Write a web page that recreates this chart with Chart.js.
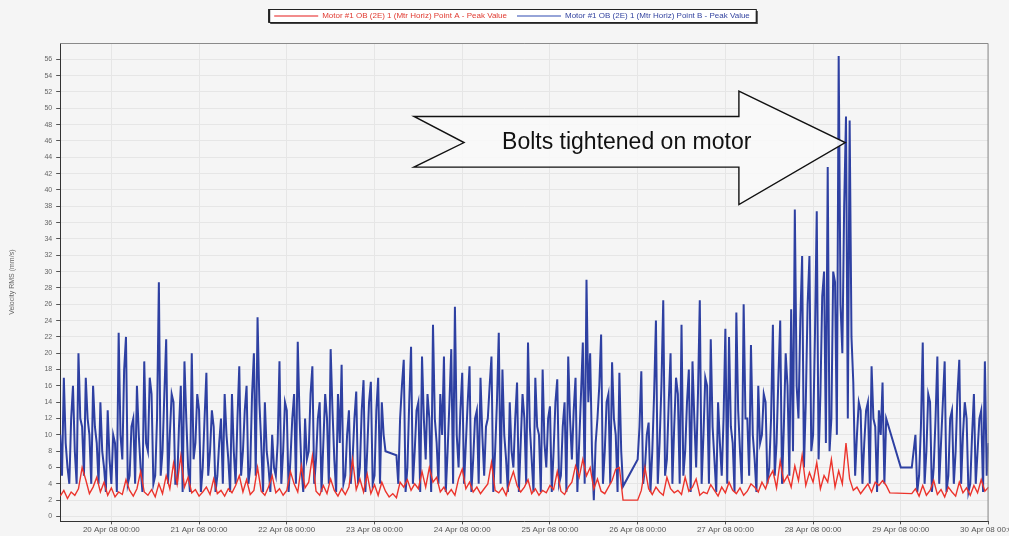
<!DOCTYPE html>
<html>
<head>
<meta charset="utf-8">
<title>Motor vibration trend</title>
<script src="https://cdn.jsdelivr.net/npm/chart.js@4.4.0/dist/chart.umd.min.js"></script>
<style>
  html, body { margin: 0; padding: 0; background: #f5f5f5; overflow: hidden; }
  #wrap { width: 1018px; height: 536px; }
</style>
</head>
<body>
<div id="wrap"><canvas id="trendChart" width="1018" height="536"></canvas></div>
<script>
// Time is in hours from 20 Apr 00:00; both traces start at 19 Apr 10:00
const startHour = -14;
const pointAStep = 1;    // hourly
const pointBStep = 0.5;  // every half hour

const dayHours = [0, 24, 48, 72, 96, 120, 144, 168, 192, 216, 240];
const dayLabels = [
    '20 Apr 08 00:00', '21 Apr 08 00:00', '22 Apr 08 00:00', '23 Apr 08 00:00',
    '24 Apr 08 00:00', '25 Apr 08 00:00', '26 Apr 08 00:00', '27 Apr 08 00:00',
    '28 Apr 08 00:00', '29 Apr 08 00:00', '30 Apr 08 00:00'
];

const seriesNames = [
    'Motor #1 OB (2E) 1 (Mtr Horiz) Point A - Peak Value',
    'Motor #1 OB (2E) 1 (Mtr Horiz) Point B - Peak Value'
];

// Point A (red), hourly
const pointA = [
    2.5, 3.2, 2.2, 3, 2.6, 3.4, 6, 4.5, 2.8, 3.6,
    4.8, 3, 4.2, 2.6, 3.5, 2.4, 3, 2.7, 4.5, 3.2,
    2.5, 3.4, 5.5, 3, 2.6, 3.3, 2.4, 4, 2.8, 5,
    3.4, 6.5, 4, 7.4, 3.6, 4.8, 2.9, 3.3, 2.5, 3,
    3.6, 2.7, 4.6, 2.8, 3.2, 2.5, 3.4, 2.9, 3.8, 5,
    3, 4.5, 2.7, 3.2, 6, 3.1, 2.6, 3.6, 5, 2.9,
    3.4, 2.6, 3.2, 5.5, 4, 3, 6.2, 3.5, 4.2, 7.4,
    3.1, 2.6, 3.8, 2.8, 4.6, 3.2, 2.5, 3.4, 2.7, 3.6,
    7, 3.3, 4.6, 3, 5.2, 2.8, 3.9, 2.6, 4.2, 3.1,
    2.4, 2.8, 2.3, 4.2, 3.6, 4.5, 3.2, 4, 3.4, 5.5,
    3.6, 6, 4.2, 4.8, 3, 3.6, 2.7, 3.3, 2.6, 4.6,
    5.8, 3.4, 4.2, 3, 3.6, 2.8, 3.4, 4, 6.6, 3.2,
    2.9, 3.5, 2.6, 4.2, 5.5, 3.8, 3, 3.6, 4.5, 2.8,
    3.4, 2.6, 3.2, 2.9, 3.8, 3.3, 5.5, 3.1, 2.7, 3.6,
    4.2, 6.2, 4.8, 7, 5, 6, 3.4, 4.6, 3.1, 2.8,
    3.6, 4.4, 5.8, 6, 2, null, null, null, 2, 3.2,
    6, 3.4, 2.7, 3.6, 3, 2.6, 4.8, 3.4, 2.9, 3.2,
    2.7, 4.8, 3.1, 3.6, 4.6, 2.6, 3, 2.8, 3.9, 3.2,
    2.5, 3.6, 2.9, 4.2, 3.2, 2.8, 3.5, 2.6, 3.1, 4,
    3.6, 3, 4.2, 3.4, 4.8, 5.6, 3.5, 6.8, 4.2, 5,
    3.6, 6.2, 4.4, 7.5, 3.8, 5.4, 4.2, 6.6, 3.4, 5,
    4.2, 7, 3.6, 5.6, 4, 9, 4.6, 3.2, 3.6, 2.8,
    3.4, 4, 3, 4.2, 3.8, 4.4, 3.8, 2.9, null, null,
    null, null, null, 2.8, 3.4, 2.5, 3.8, 2.6, 3.2, 4.4,
    2.7, 3.3, 2.4, 3.6, 3, 2.5, 4.2, 2.9, 3.5, 2.6,
    3.8, 2.9, 4.5, 3.1, 3.6
];

// Point B (blue), half-hourly, one row = 10 hours
const pointB = [
    10, 5, 17, 9, 6, 4, 12, 16, 8, 4, 20, 12, 11, 5, 17, 12, 10, 4, 16, 11,
    9, 4, 14, 8, 6, 3, 13, 7, 4, 10, 9, 3, 22.5, 10, 7, 18, 22, 4, 5, 11,
    12, 4, 16, 10, 6, 3, 19, 9, 8, 17, 15, 4, 5, 12, 28.7, 5, 8, 15, 21.7, 4,
    10, 15, 14, 4, 4, 11, 16, 3, 19, 12, 6, 3, 20, 7, 9, 15, 13, 3, 6, 12,
    17.6, 5, 8, 13, 11, 3, 5, 9, 12, 4, 15, 10, 7, 3, 15, 8, 4, 12, 18.4, 5,
    8, 13, 16, 4, 6, 15, 20, 5, 24.4, 14, 9, 3, 14, 8, 6, 3, 10, 6, 5, 9,
    19, 4, 8, 14, 13, 3, 7, 12, 15, 4, 21.4, 12, 6, 3, 12, 7, 8, 15, 18.4, 4,
    7, 12, 14, 3, 9, 15, 12, 4, 20.5, 13, 7, 3, 15, 9, 18.6, 4, 5, 10, 13, 4,
    7, 12, 15.3, 4, 6, 13, 16.7, 3, 8, 14, 16.5, 4, 5, 13, 17, 4, 14, 10, 8, null,
    null, null, null, null, 7.5, 4, 12, 16, 19.2, 3, 6, 14, 20.8, 4, 8, 13, 14, 3, 19.6, 12,
    7, 15, 12, 3, 23.5, 12, 9, 4, 15, 10, 19.6, 3, 8, 14, 20.5, 4, 25.7, 10, 6, 13,
    17.6, 4, 9, 14, 18.4, 3, 7, 12, 13, 4, 17, 10, 5, 11, 12, 16, 19.6, 3, 8, 14,
    22.5, 4, 18, 10, 7, 3, 14, 8, 6, 12, 16.4, 3, 9, 15, 12, 4, 21.3, 11, 7, 3,
    17, 11, 10, 3, 18, 9, 6, 12, 13.5, 3, 8, 14, 16.8, 4, 5, 11, 14, 3, 19.6, 12,
    7, 13, 17, 3, 9, 15, 21.3, 4, 29, 14, 20, 8, 2, 9, 12, 16, 22.3, 4, 8, 14,
    15, 4, 18.9, 12, 10, 3, 17.6, 8, 3.7, null, null, null, null, null, null, null, 7, 11, 17.8, 4,
    6, 10, 11.5, 3, 8, 15, 24, 4, 9, 16, 26.5, 5, 7, 14, 20, 4, 11, 17, 15, 4,
    23.5, 5, 8, 14, 18, 3, 19, 12, 6, 15, 26.5, 4, 10, 17, 16, 4, 21.7, 11, 7, 3,
    14, 9, 5, 12, 23, 4, 22, 11, 9, 3, 25, 13, 8, 4, 26, 12, 12, 5, 21, 10,
    7, 3, 16, 9, 10, 15, 14, 4, 6, 12, 23.5, 5, 9, 17, 24, 4, 11, 20, 16, 5,
    25.4, 8, 37.6, 16, 12, 24, 31.9, 6, 14, 26, 31.9, 8, 10, 22, 37.4, 7, 15, 27, 30, 9,
    42.8, 8, 12, 30, 28.7, 10, 56.4, 26, 20, 38, 49, 12, 48.5, 22, 16.4, 5, 10, 14, 13, 4,
    9, 13, 14, 4, 18.4, 12, 11, 3, 13, 10, 16.4, 4, 12, null, null, null, null, null, null, null,
    6, null, null, null, null, null, 6, 8, 10, 3, 5, 11, 21.3, 4, 8, 15, 14, 3, 6, 12,
    19.6, 4, 9, 14, 19, 3, 5, 12, 13, 4, 8, 15, 19.2, 4, 10, 14, 12, 3, 4, 10,
    15, 4, 8, 12, 13, 3, 19, 5, 9
];

const yTicks = [0, 2, 4, 6, 8, 10, 12, 14, 16, 18, 20, 22, 24, 26, 28,
                30, 32, 34, 36, 38, 40, 42, 44, 46, 48, 50, 52, 54, 56];

function toPoints(values, step) {
    return values.map((v, i) => ({ x: startHour + i * step, y: v }));
}

const FONT = '"Liberation Sans", Arial, sans-serif';

// leave a gap between the legend and the plot
const legendGap = {
    id: 'legendGap',
    beforeInit(chart) {
        const fit = chart.legend.fit;
        chart.legend.fit = function () {
            fit.call(this);
            this.height += 13;
        };
    }
};

// frame around the plot area (top/right lighter than the axes)
const plotFrame = {
    id: 'plotFrame',
    afterDraw(chart) {
        const { ctx, chartArea: a } = chart;
        ctx.save();
        ctx.strokeStyle = '#8a8a8a';
        ctx.lineWidth = 1;
        ctx.beginPath();
        ctx.moveTo(a.left, a.top + 0.5);
        ctx.lineTo(a.right - 0.5, a.top + 0.5);
        ctx.lineTo(a.right - 0.5, a.bottom);
        ctx.stroke();
        ctx.restore();
    }
};

// box with a drop shadow around the legend
const legendFrame = {
    id: 'legendFrame',
    beforeDraw(chart) {
        const boxes = chart.legend.legendHitBoxes;
        if (!boxes || !boxes.length) return;
        const last = boxes[boxes.length - 1];
        const left = boxes[0].left - 6;
        const right = last.left + last.width + 6;
        const top = boxes[0].top - 3;
        const h = boxes[0].height + 5;
        const ctx = chart.ctx;
        ctx.save();
        ctx.fillStyle = '#444';
        ctx.fillRect(left + 2, top + 2, right - left, h);
        ctx.fillStyle = '#ffffff';
        ctx.fillRect(left, top, right - left, h);
        ctx.strokeStyle = '#222';
        ctx.lineWidth = 1;
        ctx.strokeRect(left + 0.5, top + 0.5, right - left, h);
        ctx.fillStyle = '#222';
        ctx.fillRect(left, top, 2, h);
        ctx.restore();
    }
};

// the "Bolts tightened on motor" callout, placed in data units
const callout = {
    id: 'callout',
    afterDatasetsDraw(chart, args, opts) {
        const { ctx, scales: { x, y } } = chart;
        const px = h => x.getPixelForValue(h);
        const py = v => y.getPixelForValue(v);
        ctx.save();
        ctx.beginPath();
        ctx.moveTo(px(opts.tail), py(opts.shaftTop));
        ctx.lineTo(px(opts.headBase), py(opts.shaftTop));
        ctx.lineTo(px(opts.headBase), py(opts.headTop));
        ctx.lineTo(px(opts.tip), py(opts.mid));
        ctx.lineTo(px(opts.headBase), py(opts.headBottom));
        ctx.lineTo(px(opts.headBase), py(opts.shaftBottom));
        ctx.lineTo(px(opts.tail), py(opts.shaftBottom));
        ctx.lineTo(px(opts.notch), py(opts.mid));
        ctx.closePath();
        ctx.fillStyle = 'rgba(248,248,248,0.92)';
        ctx.fill();
        ctx.strokeStyle = '#111';
        ctx.lineWidth = 1.4;
        ctx.stroke();
        ctx.fillStyle = '#111';
        ctx.font = '23px ' + FONT;
        ctx.textAlign = 'center';
        ctx.textBaseline = 'middle';
        ctx.fillText(opts.text, px(opts.textAt), py(opts.mid));
        ctx.restore();
    }
};

const ctx = document.getElementById('trendChart').getContext('2d');
new Chart(ctx, {
    type: 'line',
    data: {
        datasets: [{
            label: seriesNames[0],
            data: toPoints(pointA, pointAStep),
            borderColor: 'rgb(236,52,44)',
            backgroundColor: 'rgb(242,140,140)',
            borderWidth: 1.4,
            textColor: '#e03a30',
            order: 0
        }, {
            label: seriesNames[1],
            data: toPoints(pointB, pointBStep),
            borderColor: 'rgb(46,64,162)',
            backgroundColor: 'rgb(150,164,216)',
            borderWidth: 2,
            textColor: '#3444a0',
            order: 1
        }]
    },
    options: {
        responsive: false,
        animation: false,
        spanGaps: true,
        elements: { point: { radius: 0 }, line: { tension: 0 } },
        layout: { padding: { top: 2, left: 6, right: 0, bottom: 0 } },
        plugins: {
            tooltip: { enabled: false },
            legend: {
                position: 'top',
                labels: {
                    boxWidth: 44,
                    boxHeight: 2,
                    padding: 10,
                    font: { family: FONT, size: 8 },
                    generateLabels: chart => chart.data.datasets.map((ds, i) => ({
                        text: ds.label,
                        fillStyle: ds.backgroundColor,
                        strokeStyle: ds.backgroundColor,
                        lineWidth: 0,
                        fontColor: ds.textColor,
                        hidden: false,
                        datasetIndex: i
                    }))
                }
            },
            callout: {
                text: 'Bolts tightened on motor',
                tail: 82.8, notch: 96.5, headBase: 171.7, tip: 200.8, textAt: 141,
                shaftTop: 49, shaftBottom: 42.8, headTop: 52.1, headBottom: 38.2, mid: 45.8
            }
        },
        scales: {
            x: {
                type: 'linear',
                min: startHour,
                max: 240,
                afterBuildTicks: scale => { scale.ticks = dayHours.map(v => ({ value: v })); },
                ticks: {
                    autoSkip: false,
                    maxRotation: 0,
                    padding: 1,
                    color: '#555',
                    font: { family: FONT, size: 8 },
                    callback: value => dayLabels[dayHours.indexOf(value)] || ''
                },
                grid: { color: '#e6e6e6', tickLength: 3, tickColor: '#555' },
                border: { color: '#333', width: 1 }
            },
            y: {
                min: -0.6,
                max: 58,
                afterBuildTicks: scale => { scale.ticks = yTicks.map(v => ({ value: v })); },
                ticks: {
                    autoSkip: false,
                    padding: 4,
                    color: '#666',
                    font: { family: FONT, size: 7 }
                },
                grid: { color: '#e6e6e6', tickLength: 4, tickColor: '#555' },
                border: { color: '#333', width: 1 },
                title: {
                    display: true,
                    text: 'Velocity RMS (mm/s)',
                    color: '#666',
                    padding: { top: 2, bottom: 24 },
                    font: { family: FONT, size: 7 }
                }
            }
        }
    },
    plugins: [legendGap, legendFrame, plotFrame, callout]
});
</script>
</body>
</html>
